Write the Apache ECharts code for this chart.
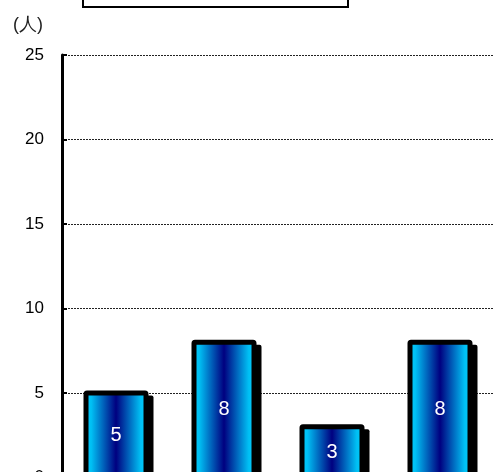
<!DOCTYPE html>
<html>
<head>
<meta charset="utf-8">
<script src="https://cdn.jsdelivr.net/npm/echarts@6/dist/echarts.min.js"></script>
<style>
html,body{margin:0;padding:0;background:#fff;}
#chart{width:493px;height:472px;}
</style>
</head>
<body>
<div id="chart"></div>
<script>
const categories = ['1', '2', '3', '4'];
const values = [5, 8, 3, 8];
const yTicks = [0, 5, 10, 15, 20, 25];
const unitLabel = '(人)';

const chart = echarts.init(document.getElementById('chart'), null, {renderer: 'canvas'});
const font = '"Liberation Sans", Arial, sans-serif';
const BAR_W = 60;
const BORDER = 5;
const SH = 5;

function renderBar(params, api) {
  const cat = api.value(0);
  const top = api.coord([cat, api.value(1)]);
  const base = api.coord([cat, 0]);
  const x = top[0] - BAR_W / 2;
  const y = top[1];
  const h = base[1] - top[1];
  const o = BORDER / 2;
  return {
    type: 'group',
    children: [
      {
        type: 'rect',
        shape: {x: x - o + SH, y: y - o + SH, width: BAR_W + BORDER, height: h + BORDER, r: 2},
        style: {fill: '#000'}
      },
      {
        type: 'rect',
        shape: {x: x, y: y, width: BAR_W, height: h, r: 1},
        style: {
          fill: new echarts.graphic.LinearGradient(0, 0, 1, 0, [
            {offset: 0, color: '#00D0FF'},
            {offset: 0.12, color: '#00C0F4'},
            {offset: 0.5, color: '#000080'},
            {offset: 0.88, color: '#00C0F4'},
            {offset: 1, color: '#00D0FF'}
          ]),
          stroke: '#000',
          lineWidth: BORDER,
          lineJoin: 'round'
        }
      },
      {
        type: 'text',
        x: top[0],
        y: y + h / 2,
        style: {
          text: String(api.value(1)),
          fill: '#fff',
          font: '20px ' + font,
          align: 'center',
          verticalAlign: 'middle'
        }
      }
    ]
  };
}

chart.setOption({
  animation: false,
  backgroundColor: '#ffffff',
  title: {
    text: unitLabel,
    left: 8, top: 11,
    textStyle: {fontFamily: font, fontSize: 18, fontWeight: 'normal', color: '#222'}
  },
  graphic: [{
    type: 'rect',
    shape: {x: 83, y: -30, width: 265, height: 37},
    style: {fill: '#fff', stroke: '#000', lineWidth: 2}
  }],
  grid: {left: 62, top: 55, height: 422.5, width: 432, containLabel: false, outerBoundsMode: 'none'},
  xAxis: {
    type: 'category',
    data: categories,
    axisLine: {lineStyle: {color: '#000', width: 3}},
    axisTick: {show: false},
    axisLabel: {show: false}
  },
  yAxis: {
    type: 'value',
    min: yTicks[0], max: yTicks[yTicks.length - 1], interval: 5,
    axisLine: {show: true, lineStyle: {color: '#000', width: 3}},
    axisTick: {show: true, inside: true, length: 5, lineStyle: {color: '#000', width: 2}},
    axisLabel: {fontFamily: font, fontSize: 17, color: '#000', margin: 18},
    splitLine: {show: true, lineStyle: {color: '#222', width: 1, type: [2, 1]}}
  },
  series: [{
    type: 'custom',
    renderItem: renderBar,
    encode: {x: 0, y: 1},
    data: values.map((v, i) => [i, v]),
    clip: false
  }]
});
</script>
</body>
</html>
